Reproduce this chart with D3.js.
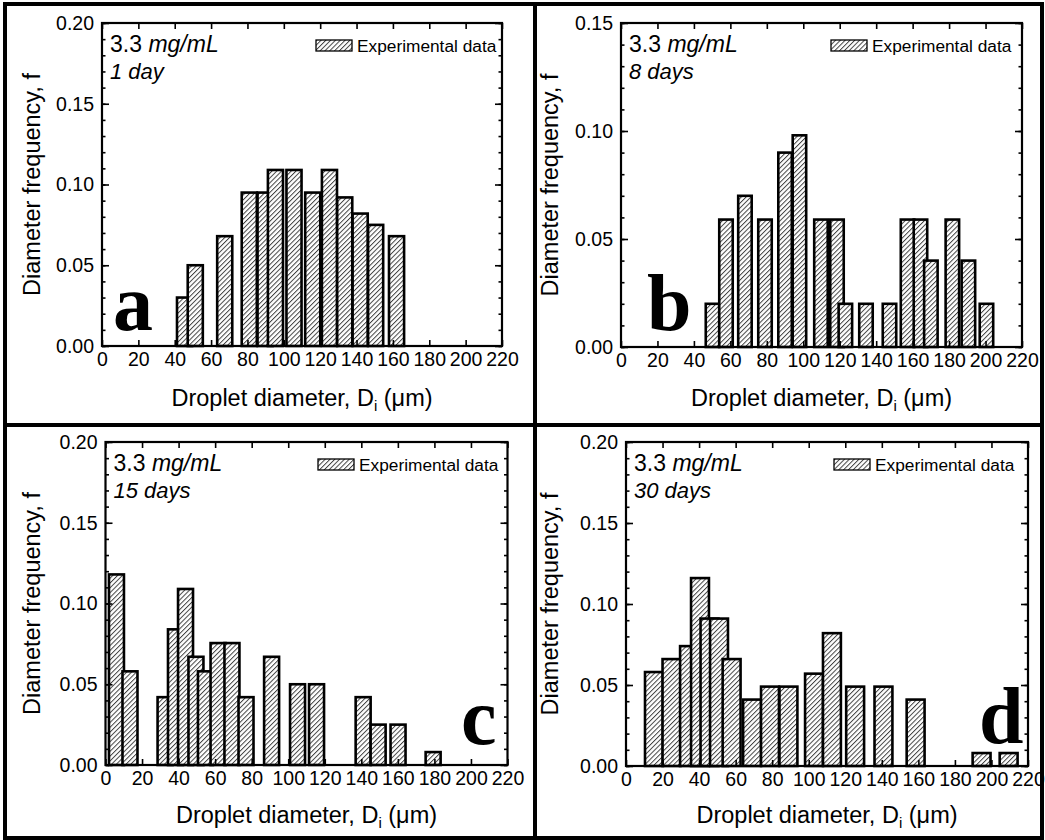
<!DOCTYPE html>
<html><head><meta charset="utf-8">
<script src="https://cdn.jsdelivr.net/npm/d3@7"></script>
<style>
html,body{margin:0;padding:0;background:#fff;}
svg{display:block;font-family:Arial,"Liberation Sans",sans-serif;}
</style></head>
<body>
<svg id="chart" width="1045" height="840"></svg>
<script>
// ---------- data ----------
const xTicks = [0,20,40,60,80,100,120,140,160,180,200,220];
const yTicksA = [0.00,0.05,0.10,0.15,0.20];
const yTicksB = [0.00,0.05,0.10,0.15];

// panel a : 1 day
const aCenters = [45.4,51.3,67.5,81,89.7,95.4,105.6,115.9,125.1,133.5,142,150.5,162];
const aValues  = [0.030,0.050,0.068,0.095,0.095,0.109,0.109,0.095,0.109,0.092,0.082,0.075,0.068];
// panel b : 8 days
const bCenters = [50.2,57.6,68,79,90,97.9,109.7,118.5,123.1,134.4,147.3,157.2,164.3,170,181.8,190.6,200.5];
const bValues  = [0.020,0.059,0.070,0.059,0.090,0.098,0.059,0.059,0.020,0.020,0.020,0.059,0.059,0.040,0.059,0.040,0.020];
// panel c : 15 days
const cCenters = [6,13.4,32.6,38.3,43.8,49.5,54.7,61.6,69.2,76.9,90.9,105.1,115.5,141,149.2,160.1,179.3];
const cValues  = [0.118,0.058,0.042,0.084,0.109,0.067,0.058,0.0755,0.0755,0.042,0.067,0.050,0.050,0.042,0.025,0.025,0.008];
// panel d : 30 days
const dCenters = [15.3,24.9,34.5,40.5,45.7,50.9,57.8,69,78.8,88.9,102.9,112.7,125.4,140.9,158.5,194.6,209.4];
const dValues  = [0.058,0.066,0.074,0.116,0.091,0.091,0.066,0.041,0.049,0.049,0.057,0.082,0.049,0.049,0.041,0.008,0.008];

const concLabel = "3.3";
const concUnit = "mg/mL";
const legendLabel = "Experimental data";
const xTitle = "Droplet diameter, D";
const yTitle = "Diameter frequency, f";

// ---------- layout ----------
const panels = [
  {id:"a", days:"1 day",  centers:aCenters, values:aValues, bw:8.3, ymax:0.20, yticks:yTicksA,
   L:102, R:502, T:23, B:346, letterX:113, letterY:330, legX:316, yTitleX:40, xTitleY:406},
  {id:"b", days:"8 days", centers:bCenters, values:bValues, bw:7.4, ymax:0.15, yticks:yTicksB,
   L:621, R:1022, T:23, B:347, letterX:647, letterY:330, legX:831, yTitleX:558, xTitleY:406},
  {id:"c", days:"15 days", centers:cCenters, values:cValues, bw:8.2, ymax:0.20, yticks:yTicksA,
   L:105.5, R:507.5, T:442, B:765, letterX:461, letterY:744, legX:318, yTitleX:40, xTitleY:823},
  {id:"d", days:"30 days", centers:dCenters, values:dValues, bw:9.8, ymax:0.20, yticks:yTicksA,
   L:626, R:1028, T:442, B:766, letterX:979, letterY:743, legX:834, yTitleX:558, xTitleY:823}
];

const svg = d3.select("#chart");
const defs = svg.append("defs");
const pat = defs.append("pattern").attr("id","hatch")
  .attr("patternUnits","userSpaceOnUse").attr("width",3.4).attr("height",3.4)
  .attr("patternTransform","rotate(45)");
pat.append("rect").attr("width",3.4).attr("height",3.4).attr("fill","#fff");
pat.append("line").attr("x1",0.5).attr("y1",0).attr("x2",0.5).attr("y2",3.4)
  .attr("stroke","#3a3a3a").attr("stroke-width",0.95);

svg.append("rect").attr("x",0).attr("y",0).attr("width",1045).attr("height",840).attr("fill","#fff");

panels.forEach(p => {
  const g = svg.append("g");
  const x = d3.scaleLinear().domain([0,220]).range([p.L,p.R]);
  const y = d3.scaleLinear().domain([0,p.ymax]).range([p.B,p.T]);
  const data = p.centers.map((c,i)=>({c, v:p.values[i]}));

  // bars
  g.selectAll("rect.bar").data(data).enter().append("rect")
    .attr("class","bar")
    .attr("x", d => x(d.c - p.bw/2))
    .attr("width", d => x(d.c + p.bw/2) - x(d.c - p.bw/2))
    .attr("y", d => y(d.v))
    .attr("height", d => y(0) - y(d.v))
    .attr("fill","url(#hatch)")
    .attr("stroke","#000").attr("stroke-width",2.6);

  // minor y ticks
  const minor = d3.range(0, p.ymax + 1e-9, 0.01);
  const styleAxis = sel => { sel.select(".domain").remove(); sel.selectAll("line").attr("stroke","#000").attr("stroke-width",1.6); };
  g.append("g").attr("transform",`translate(${p.L},0)`)
    .call(d3.axisLeft(y).tickValues(minor).tickSizeInner(-3.5).tickSizeOuter(0).tickFormat(""))
    .call(styleAxis);
  g.append("g").attr("transform",`translate(${p.R},0)`)
    .call(d3.axisRight(y).tickValues(minor).tickSizeInner(-3.5).tickSizeOuter(0).tickFormat(""))
    .call(styleAxis);

  // major axes
  const yl = g.append("g").attr("transform",`translate(${p.L},0)`)
    .call(d3.axisLeft(y).tickValues(p.yticks).tickSizeInner(-7).tickSizeOuter(0).tickPadding(8).tickFormat(d3.format(".2f")))
    .call(styleAxis);
  yl.selectAll("text").attr("font-size",19.5).attr("fill","#000").attr("font-family","Arial, 'Liberation Sans', sans-serif");
  g.append("g").attr("transform",`translate(${p.R},0)`)
    .call(d3.axisRight(y).tickValues(p.yticks).tickSizeInner(-7).tickSizeOuter(0).tickFormat(""))
    .call(styleAxis);
  const xb = g.append("g").attr("transform",`translate(0,${p.B})`)
    .call(d3.axisBottom(x).tickValues(xTicks).tickSizeInner(-6).tickSizeOuter(0).tickPadding(6).tickFormat(d3.format("d")))
    .call(styleAxis);
  xb.selectAll("text").attr("font-size",19.5).attr("fill","#000").attr("font-family","Arial, 'Liberation Sans', sans-serif");
  g.append("g").attr("transform",`translate(0,${p.T})`)
    .call(d3.axisTop(x).tickValues(xTicks).tickSizeInner(-6).tickSizeOuter(0).tickFormat(""))
    .call(styleAxis);

  // frame
  g.append("rect").attr("x",p.L).attr("y",p.T).attr("width",p.R-p.L).attr("height",p.B-p.T)
    .attr("fill","none").attr("stroke","#000").attr("stroke-width",2.2);

  // annotation
  const t1 = g.append("text").attr("x",p.L+8).attr("y",p.T+29).attr("font-size",23);
  t1.append("tspan").text(concLabel + "\u00A0");
  t1.append("tspan").attr("font-style","italic").text(concUnit);
  g.append("text").attr("x",p.L+8).attr("y",p.T+56).attr("font-size",22).attr("font-style","italic").text(p.days);

  // legend
  g.append("rect").attr("x",p.legX).attr("y",p.T+17).attr("width",36).attr("height",11)
    .attr("fill","url(#hatch)").attr("stroke","#000").attr("stroke-width",1.3);
  g.append("text").attr("x",p.legX+41).attr("y",p.T+28.5).attr("font-size",17.3).text(legendLabel);

  // big letter
  g.append("text").attr("x",p.letterX).attr("y",p.letterY)
    .attr("font-family","'Liberation Serif','Times New Roman',serif").attr("font-weight","bold")
    .attr("font-size",80).text(p.id);

  // axis titles
  const xt = g.append("text").attr("x",(p.L+p.R)/2).attr("y",p.xTitleY).attr("text-anchor","middle").attr("font-size",23.5);
  xt.append("tspan").text(xTitle);
  xt.append("tspan").attr("font-size",15).attr("dy",5).text("i");
  xt.append("tspan").attr("dy",-5).text(" (\u03BCm)");
  g.append("text").attr("transform",`translate(${p.yTitleX},${(p.T+p.B)/2}) rotate(-90)`)
    .attr("text-anchor","middle").attr("font-size",23.5).text(yTitle);
});

// figure borders
const bw = 4;
svg.append("rect").attr("x",5).attr("y",4).attr("width",1037).attr("height",834)
  .attr("fill","none").attr("stroke","#000").attr("stroke-width",bw);
svg.append("line").attr("x1",535).attr("x2",535).attr("y1",4).attr("y2",838).attr("stroke","#000").attr("stroke-width",bw);
svg.append("line").attr("x1",5).attr("x2",1042).attr("y1",425).attr("y2",425).attr("stroke","#000").attr("stroke-width",bw);
</script>
</body></html>
